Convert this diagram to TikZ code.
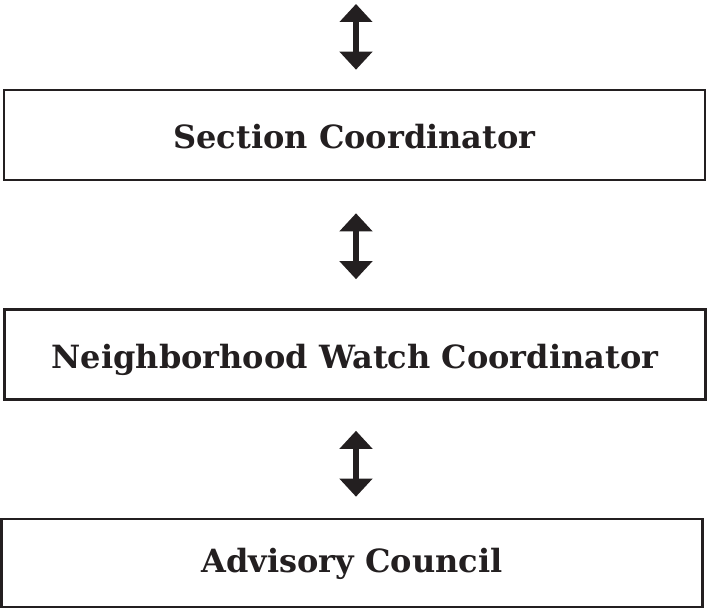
\documentclass[tikz,border=0pt]{standalone}
\usepackage{fontspec}
\setmainfont{DejaVu Serif}
\usetikzlibrary{arrows.meta}
\definecolor{ink}{HTML}{231F20}
\tikzset{
    rolebox/.style={draw=ink,line width=2.6pt,minimum width=701pt,minimum height=90pt,inner sep=0pt,
        text=ink,font=\fontsize{32}{36}\selectfont\bfseries,text height=33pt,text depth=6pt},
    linkarrow/.style={draw=ink,line width=5.5pt,{Triangle[width=32pt,length=18pt]}-{Triangle[width=32pt,length=18pt]}}
}
\begin{document}
\begin{tikzpicture}[x=1pt,y=1pt]
    \useasboundingbox (0,0) rectangle (709,-609);
    \node[rolebox] (sec) at (354.5,-135) {Section Coordinator};
    \node[rolebox] (nbh) at (355,-354.5) {Neighborhood Watch Coordinator};
    \node[rolebox,minimum height=88pt,text height=25pt] (adv) at (352,-563) {Advisory Council};
    \coordinate (up) at (356,-4);
    \draw[linkarrow] (up) -- ([yshift=19pt]sec.north -| up);
    \draw[linkarrow] ([yshift=-32pt]sec.south -| up) -- ([yshift=29pt]nbh.north -| up);
    \draw[linkarrow] ([yshift=-30pt]nbh.south -| up) -- ([yshift=21pt]adv.north -| up);
\end{tikzpicture}
\end{document}
